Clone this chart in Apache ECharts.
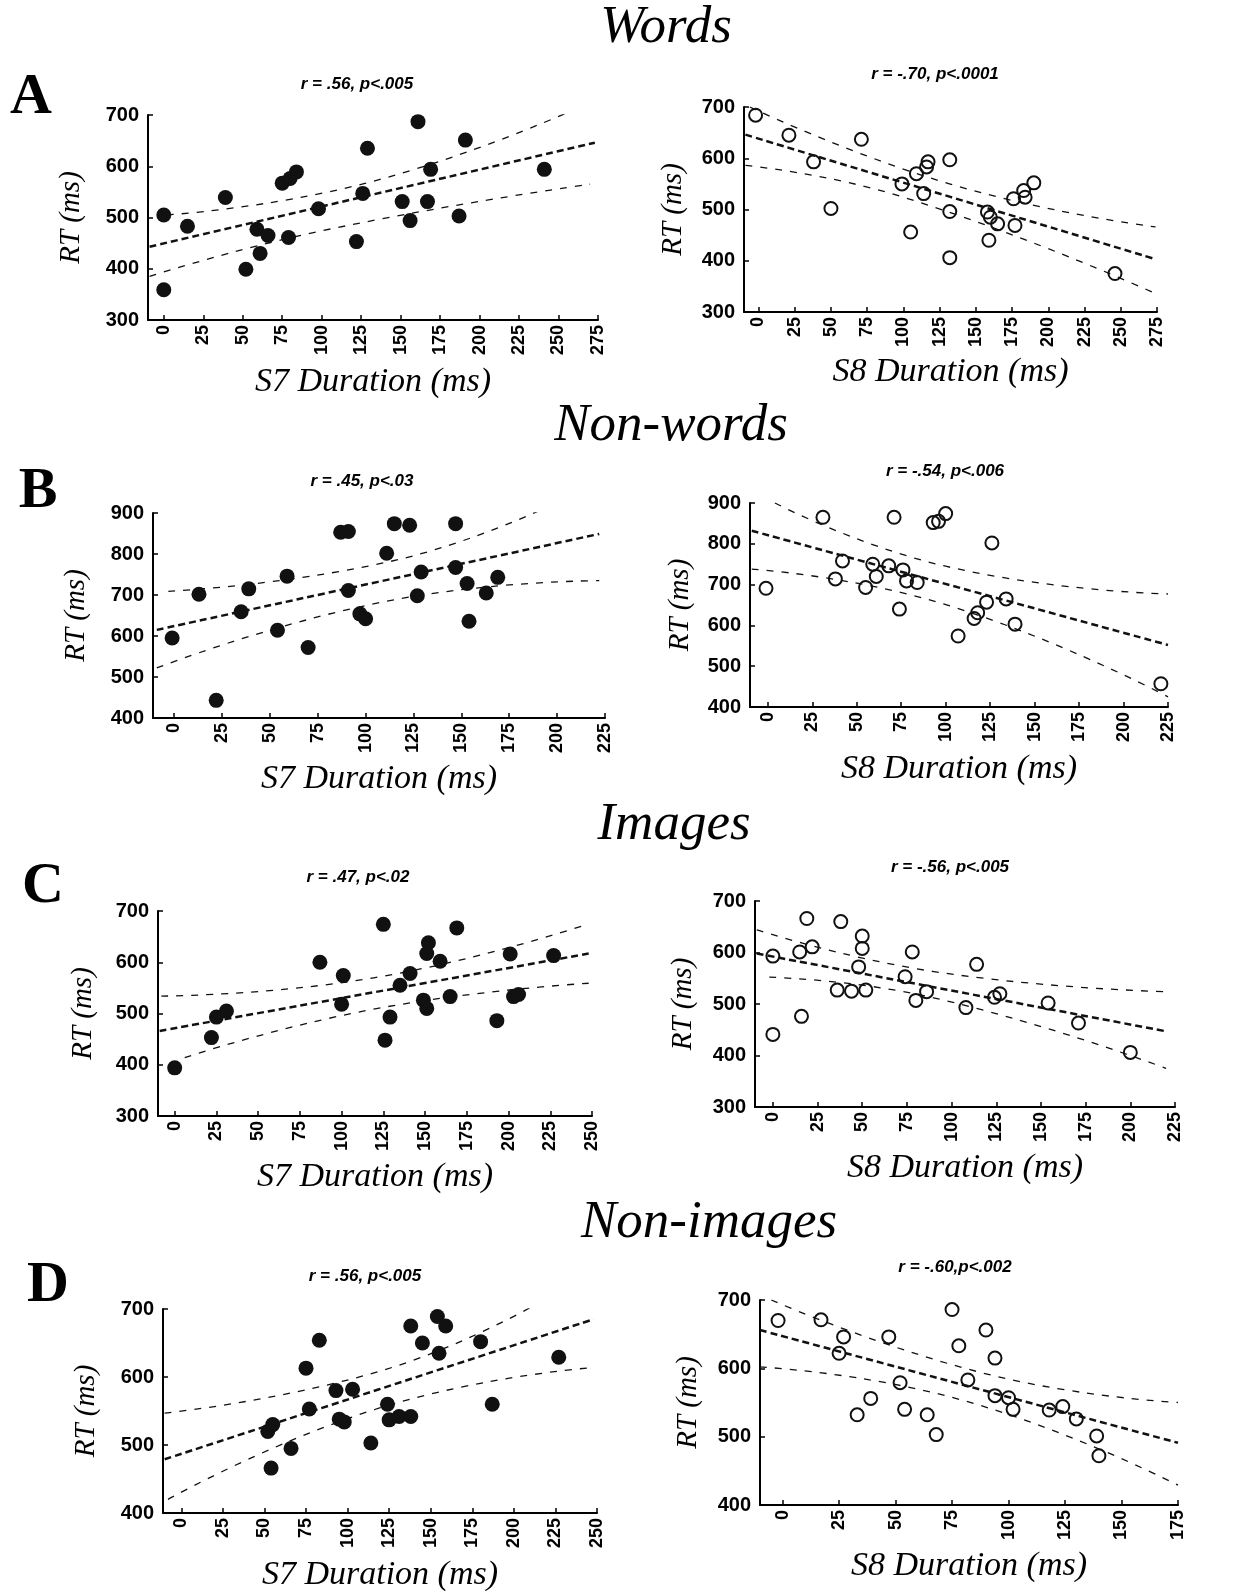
<!DOCTYPE html>
<html>
<head>
<meta charset="utf-8">
<title>RT vs S7 / S8 duration</title>
<script src="https://cdn.jsdelivr.net/npm/echarts@6/dist/echarts.min.js"></script>
<style>
  html, body { margin: 0; padding: 0; background: #fff; }
  #main { width: 1254px; height: 1595px; }
</style>
</head>
<body>
<div id="main"></div>
<script>
// section headings and panel letters
var sectionTitles = ['Words', 'Non-words', 'Images', 'Non-images'];
var panelLetters = ['A', 'B', 'C', 'D'];
var statTexts = ['r = .56, p<.005', 'r = -.70, p<.0001', 'r = .45, p<.03', 'r = -.54, p<.006',
                 'r = .47, p<.02', 'r = -.56, p<.005', 'r = .56, p<.005', 'r = -.60,p<.002'];

// x tick labels
var ticks275 = [0, 25, 50, 75, 100, 125, 150, 175, 200, 225, 250, 275];
var ticks250 = [0, 25, 50, 75, 100, 125, 150, 175, 200, 225, 250];
var ticks225 = [0, 25, 50, 75, 100, 125, 150, 175, 200, 225];
var ticks175 = [0, 25, 50, 75, 100, 125, 150, 175];

// A - words
var wordsS7 = [[0,505],[0,359],[15,483],[39,539],[52,399],[59,477],[61,430],[66,465],[79,461],[75,567],[80,576],[84,589],
  [98,517],[122,453],[126,547],[129,635],[151,531],[156,494],[161,687],[167,531],[169,594],[187,503],[191,651],[241,594]];
var wordsS7Fit = [[-9,443],[273,646]];
var wordsS7Hi = [[2,505],[128,567],[258,708]];
var wordsS7Lo = [[-9,385],[100,474],[270,565]];

var wordsS8 = [[-2,684],[21,645],[38,593],[50,502],[71,637],[99,550],[105,456],[109,570],[114,531],[116,583],[117,593],[132,597],
  [132,496],[132,406],[158,495],[159,440],[160,485],[165,472],[176,521],[177,469],[183,537],[184,524],[190,552],[246,375]];
var wordsS8Fit = [[-9,646],[274,403]];
var wordsS8Hi = [[-6,700],[133,549],[274,466]];
var wordsS8Lo = [[-9,586],[100,524],[274,336]];

// B - non-words
var nonwordsS7 = [[-1,595],[13,702],[22,443],[35,659],[39,715],[54,614],[59,746],[70,572],[87,853],[91,855],[91,711],[97,654],
  [100,642],[111,802],[115,874],[123,870],[127,698],[129,756],[147,874],[147,767],[153,728],[154,636],[163,705],[169,743]];
var nonwordsS7Fit = [[-9,615],[222,849]];
var nonwordsS7Hi = [[-3,709],[113,782],[195,915]];
var nonwordsS7Lo = [[-9,522],[110,684],[222,735]];

var nonwordsS8 = [[-1,691],[31,865],[38,714],[42,758],[55,693],[59,750],[61,720],[68,746],[71,865],[74,640],[76,736],[78,709],
  [84,705],[93,852],[96,855],[100,874],[107,574],[116,617],[118,631],[123,657],[126,802],[134,665],[139,603],[221,457]];
var nonwordsS8Fit = [[-9,832],[225,552]];
var nonwordsS8Hi = [[4,900],[100,745],[225,677]];
var nonwordsS8Lo = [[-9,738],[100,651],[225,425]];

// C - images
var imagesS7 = [[0,394],[22,453],[25,493],[31,505],[87,600],[101,574],[100,518],[125,674],[126,448],[129,493],[135,555],[141,578],
  [149,526],[151,617],[152,638],[151,510],[159,602],[165,533],[169,667],[193,486],[201,616],[203,533],[206,537],[227,613]];
var imagesS7Fit = [[-9,466],[248,617]];
var imagesS7Hi = [[-8,534],[120,570],[248,675]];
var imagesS7Lo = [[6,414],[120,509],[248,559]];

var imagesS8 = [[0,593],[0,441],[15,601],[16,476],[19,666],[22,611],[36,527],[38,660],[44,525],[48,572],[50,632],[50,608],
  [52,527],[74,553],[78,601],[80,507],[86,524],[108,493],[114,577],[124,513],[127,520],[154,502],[171,463],[200,406]];
var imagesS8Fit = [[-9,598],[220,447]];
var imagesS8Hi = [[-9,644],[90,563],[220,524]];
var imagesS8Lo = [[-2,552],[90,512],[220,375]];

// D - non-images
var nonimagesS7 = [[52,520],[55,530],[54,466],[66,495],[75,613],[77,553],[83,654],[93,580],[95,538],[98,534],[103,582],[114,503],
  [124,560],[125,537],[131,542],[138,542],[138,675],[145,650],[154,689],[155,635],[159,675],[180,652],[187,560],[227,629]];
var nonimagesS7Fit = [[-10,479],[248,685]];
var nonimagesS7Hi = [[-10,547],[120,609],[215,709]];
var nonimagesS7Lo = [[-8,420],[120,555],[248,614]];

var nonimagesS8 = [[-2,670],[17,671],[27,646],[25,622],[33,532],[39,556],[47,646],[52,579],[54,540],[64,532],[68,503],[75,686],
  [78,633],[82,583],[90,656],[94,615],[94,560],[100,557],[102,540],[118,539],[124,544],[130,526],[139,501],[140,472]];
var nonimagesS8Fit = [[-10,656],[175,491]];
var nonimagesS8Hi = [[-5,700],[90,592],[175,550]];
var nonimagesS8Lo = [[-10,602],[80,553],[175,429]];

// panel layout (pixels)
var panels = [
  {pts: wordsS7, fit: wordsS7Fit, hi: wordsS7Hi, lo: wordsS7Lo, filled: true, xname: 'S7 Duration (ms)', xmin: -10, xmax: 275, xticks: ticks275, ymin: 300, ymax: 700,
   left: 148, top: 115, width: 450, height: 205, statX: 357, statY: 76, yGap: 62, xGap: 45},
  {pts: wordsS8, fit: wordsS8Fit, hi: wordsS8Hi, lo: wordsS8Lo, filled: false, xname: 'S8 Duration (ms)', xmin: -10, xmax: 275, xticks: ticks275, ymin: 300, ymax: 700,
   left: 744, top: 107, width: 413, height: 205, statX: 935, statY: 66, yGap: 56, xGap: 43},
  {pts: nonwordsS7, fit: nonwordsS7Fit, hi: nonwordsS7Hi, lo: nonwordsS7Lo, filled: true, xname: 'S7 Duration (ms)', xmin: -11, xmax: 225, xticks: ticks225, ymin: 400, ymax: 900,
   left: 153, top: 513, width: 452, height: 205, statX: 362, statY: 473, yGap: 62, xGap: 44},
  {pts: nonwordsS8, fit: nonwordsS8Fit, hi: nonwordsS8Hi, lo: nonwordsS8Lo, filled: false, xname: 'S8 Duration (ms)', xmin: -10, xmax: 225, xticks: ticks225, ymin: 400, ymax: 900,
   left: 750, top: 503, width: 418, height: 204, statX: 945, statY: 463, yGap: 55, xGap: 45},
  {pts: imagesS7, fit: imagesS7Fit, hi: imagesS7Hi, lo: imagesS7Lo, filled: true, xname: 'S7 Duration (ms)', xmin: -10, xmax: 250, xticks: ticks250, ymin: 300, ymax: 700,
   left: 158, top: 911, width: 434, height: 205, statX: 358, statY: 869, yGap: 60, xGap: 44},
  {pts: imagesS8, fit: imagesS8Fit, hi: imagesS8Hi, lo: imagesS8Lo, filled: false, xname: 'S8 Duration (ms)', xmin: -10, xmax: 225, xticks: ticks225, ymin: 300, ymax: 700,
   left: 755, top: 901, width: 420, height: 206, statX: 950, statY: 859, yGap: 57, xGap: 44},
  {pts: nonimagesS7, fit: nonimagesS7Fit, hi: nonimagesS7Hi, lo: nonimagesS7Lo, filled: true, xname: 'S7 Duration (ms)', xmin: -11, xmax: 250, xticks: ticks250, ymin: 400, ymax: 700,
   left: 163, top: 1309, width: 434, height: 204, statX: 365, statY: 1268, yGap: 62, xGap: 45},
  {pts: nonimagesS8, fit: nonimagesS8Fit, hi: nonimagesS8Hi, lo: nonimagesS8Lo, filled: false, xname: 'S8 Duration (ms)', xmin: -10, xmax: 175, xticks: ticks175, ymin: 400, ymax: 700,
   left: 760, top: 1300, width: 418, height: 205, statX: 955, statY: 1259, yGap: 57, xGap: 44}
];

var headTops = [2, 400, 799, 1197];
var headX = [666, 671, 674, 709];
var letterTops = [69, 463, 858, 1257];
var letterX = [31, 38, 43, 48];

var ink = '#000';
var option = {
  animation: false,
  backgroundColor: '#fff',
  title: [],
  grid: [],
  xAxis: [],
  yAxis: [],
  series: []
};

sectionTitles.forEach(function (t, i) {
  option.title.push({text: t, left: headX[i], top: headTops[i], textAlign: 'center', padding: 0,
    textStyle: {fontFamily: 'Liberation Serif', fontStyle: 'italic', fontWeight: 'normal', fontSize: 53, color: ink}});
  option.title.push({text: panelLetters[i], left: letterX[i], top: letterTops[i], textAlign: 'center', padding: 0,
    textStyle: {fontFamily: 'Liberation Serif', fontWeight: 'bold', fontSize: 58, color: ink}});
});

panels.forEach(function (p, i) {
  option.title.push({text: statTexts[i], left: p.statX, top: p.statY, textAlign: 'center', padding: 0,
    textStyle: {fontFamily: 'Liberation Sans', fontStyle: 'italic', fontWeight: 'bold', fontSize: 17, color: ink}});

  option.grid.push({left: p.left, top: p.top, width: p.width, height: p.height, containLabel: false, outerBoundsMode: 'none'});

  option.xAxis.push({
    type: 'value', gridIndex: i, min: p.xmin, max: p.xmax,
    name: p.xname, nameLocation: 'middle', nameGap: p.xGap,
    nameTextStyle: {fontFamily: 'Liberation Serif', fontStyle: 'italic', fontSize: 34, color: ink},
    axisLine: {onZero: false, lineStyle: {color: ink, width: 2}},
    axisTick: {inside: true, length: 5, customValues: p.xticks, lineStyle: {color: ink, width: 1.5}},
    axisLabel: {customValues: p.xticks, rotate: 90, margin: 5, fontFamily: 'Liberation Sans', fontWeight: 'bold', fontSize: 18, color: ink},
    splitLine: {show: false}
  });

  option.yAxis.push({
    type: 'value', gridIndex: i, min: p.ymin, max: p.ymax, interval: 100,
    name: 'RT (ms)', nameLocation: 'middle', nameGap: p.yGap,
    nameTextStyle: {fontFamily: 'Liberation Serif', fontStyle: 'italic', fontSize: 29, color: ink},
    axisLine: {show: true, onZero: false, lineStyle: {color: ink, width: 2}},
    axisTick: {show: true, inside: true, length: 5, lineStyle: {color: ink, width: 1.5}},
    axisLabel: {margin: 9, fontFamily: 'Liberation Sans', fontWeight: 'bold', fontSize: 20, color: ink},
    splitLine: {show: false}
  });

  var bands = [
    {d: p.fit, w: 2.5, dash: [7, 4]},
    {d: p.hi, w: 1.3, dash: [7, 8]},
    {d: p.lo, w: 1.3, dash: [7, 8]}
  ];
  bands.forEach(function (b) {
    option.series.push({
      type: 'line', xAxisIndex: i, yAxisIndex: i, data: b.d,
      showSymbol: false, silent: true, smooth: 0.5, clip: true,
      lineStyle: {color: '#111', width: b.w, type: b.dash}, z: 2
    });
  });

  option.series.push({
    type: 'scatter', xAxisIndex: i, yAxisIndex: i, data: p.pts,
    symbol: 'circle', symbolSize: p.filled ? 15 : 13, z: 3,
    itemStyle: p.filled
      ? {color: '#111', opacity: 1}
      : {color: 'rgba(255,255,255,0)', borderColor: '#111', borderWidth: 2, opacity: 1}
  });
});

var chart = echarts.init(document.getElementById('main'));
chart.setOption(option);
</script>
</body>
</html>
